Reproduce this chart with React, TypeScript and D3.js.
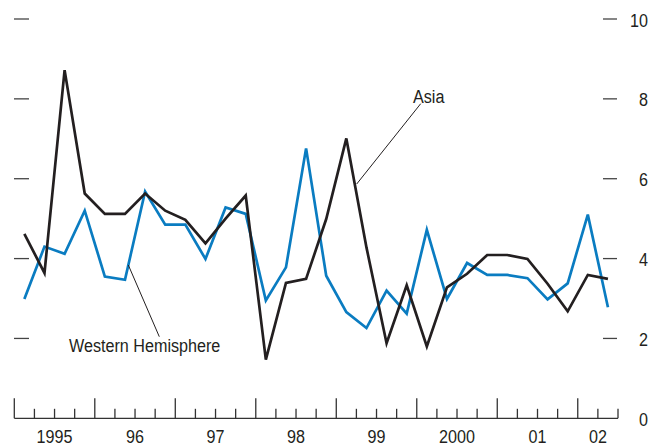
import React from "react";
import * as d3 from "d3";

const years = ["1995", "96", "97", "98", "99", "2000", "01", "02"];
const yTicks = [0, 2, 4, 6, 8, 10];
const asia = [4.62, 3.64, 8.72, 5.63, 5.12, 5.12, 5.63, 5.2, 4.97, 4.38, 5.0, 5.58, 1.47, 3.39, 3.49, 4.99, 7.01, 4.28, 1.88, 3.33, 1.8, 3.28, 3.62, 4.09, 4.09, 3.99, 3.37, 2.68, 3.59, 3.49];
const westernHemisphere = [2.99, 4.3, 4.12, 5.2, 3.55, 3.47, 5.68, 4.85, 4.85, 3.99, 5.28, 5.12, 2.95, 3.78, 6.76, 3.57, 2.66, 2.26, 3.2, 2.62, 4.72, 2.99, 3.89, 3.59, 3.59, 3.51, 2.98, 3.38, 5.1, 2.78];

const W = 662;
const H = 447;
const FONT = "'Liberation Sans', Arial, sans-serif";
const TEXT = "#231f20";
const NARROW = 0.85;

function NText(props: { x: number; y: number; anchor?: "start" | "middle" | "end"; children: React.ReactNode }) {
  return (
    <g transform={`translate(${props.x},${props.y}) scale(${NARROW},1)`}>
      <text x={0} y={0} textAnchor={props.anchor || "start"} fontSize={19} fill={TEXT} fontFamily={FONT}>
        {props.children}
      </text>
    </g>
  );
}

export default function App() {
  const x = d3.scaleLinear().domain([1995, 2002.5]).range([14.3, 618]);
  const y = d3.scaleLinear().domain([0, 10]).range([418.3, 19]);
  const qx = (i: number) => x(1995 + (i + 0.5) / 4);
  const line = d3
    .line<number>()
    .x((_, i) => qx(i))
    .y((d) => y(d));

  const quarterTicks: { t: number; major: boolean }[] = [];
  for (let k = 0; k <= 30; k++) {
    quarterTicks.push({ t: 1995 + k / 4, major: k % 4 === 0 });
  }

  return (
    <svg width={W} height={H} style={{ position: "absolute", left: 0, top: 0, background: "#fff" }}>
      {yTicks.filter((v) => v > 0).map((v) => (
        <line key={"l" + v} x1={14} x2={29} y1={y(v)} y2={y(v)} stroke="#444" strokeWidth={1.3} />
      ))}
      {yTicks.filter((v) => v > 0).map((v) => (
        <line key={"r" + v} x1={603} x2={617} y1={y(v)} y2={y(v)} stroke="#444" strokeWidth={1.3} />
      ))}
      {yTicks.map((v) => (
        <NText key={"t" + v} x={648} y={y(v) + 7.5} anchor="end">
          {v}
        </NText>
      ))}
      <line x1={x(1995)} x2={x(2002.5)} y1={y(0)} y2={y(0)} stroke="#333" strokeWidth={1.3} />
      {quarterTicks.map((q, i) => (
        <line
          key={"q" + i}
          x1={x(q.t)}
          x2={x(q.t)}
          y1={y(0)}
          y2={q.major ? y(0) - 20 : y(0) - 9.5}
          stroke="#333"
          strokeWidth={1.3}
        />
      ))}
      {years.map((lab, i) => {
        const start = 1995 + i;
        const end = Math.min(start + 1, 2002.5);
        return (
          <NText key={lab} x={x((start + end) / 2)} y={443} anchor="middle">
            {lab}
          </NText>
        );
      })}
      <path d={line(westernHemisphere) || ""} fill="none" stroke="#0a7cc1" strokeWidth={2.7} strokeLinejoin="miter" />
      <path d={line(asia) || ""} fill="none" stroke="#231f20" strokeWidth={2.7} strokeLinejoin="miter" />
      <line x1={420.7} y1={103.7} x2={356.7} y2={184} stroke={TEXT} strokeWidth={1} />
      <NText x={413} y={103}>Asia</NText>
      <line x1={128.3} y1={265} x2={159.3} y2={336.7} stroke={TEXT} strokeWidth={1} />
      <NText x={69} y={352}>Western Hemisphere</NText>
    </svg>
  );
}
